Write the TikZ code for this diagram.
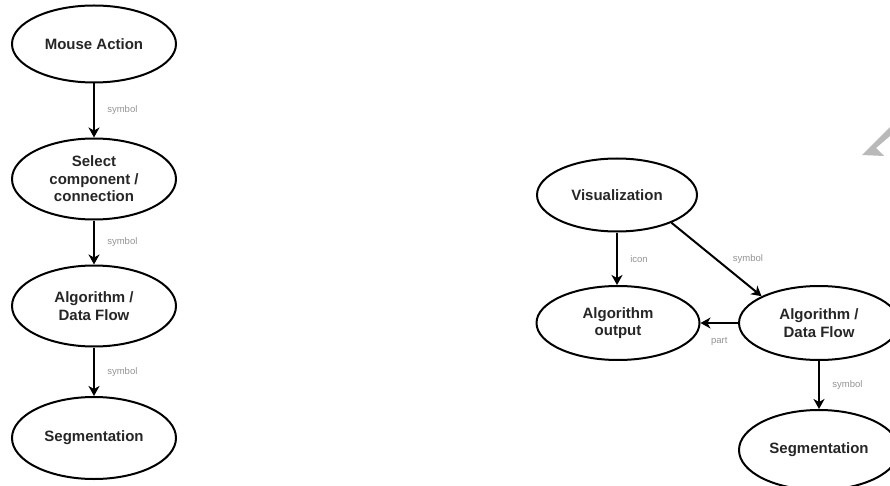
\documentclass[tikz,border=0pt]{standalone}
\usepackage{fontspec}
\setmainfont{Liberation Sans}
\usetikzlibrary{shapes.geometric, arrows.meta}

\begin{document}
\begin{tikzpicture}[x = 1pt, y = -1pt,
                    state/.style = {shape = ellipse, draw, line width = 2pt,
                                    align = center, inner sep = 0pt, text = black!85,
                                    font = \fontsize{15}{17.5}\selectfont\bfseries},
                    tag/.style = {font = \fontsize{9.5}{10}\selectfont, text = gray!85},
                    flow/.style = {-{Stealth[length = 10pt, width = 11pt, inset = 3pt]},
                                   line width = 2pt}]
      \useasboundingbox (0, 0) rectangle (890, 486);

      \node [state, minimum width = 164pt, minimum height = 77pt] (mouse) at (94, 44) {Mouse Action};
      \node [state, minimum width = 164pt, minimum height = 81pt] (select) at (94, 179) {Select\\component /\\connection};
      \node [state, minimum width = 164pt, minimum height = 81pt] (algl) at (94, 306) {Algorithm /\\Data Flow};
      \node [state, minimum width = 164pt, minimum height = 82pt] (segl) at (94, 438) {Segmentation};
      \draw [flow] (mouse) -- (select) node [tag, midway, right = 9pt] {symbol};
      \draw [flow] (select) -- (algl) node [tag, midway, right = 9pt] {symbol};
      \draw [flow] (algl) -- (segl) node [tag, midway, right = 9pt] {symbol};

      \node [state, minimum width = 160pt, minimum height = 73pt] (vis) at (617, 195) {Visualization};
      \node [state, minimum width = 163pt, minimum height = 74pt] (algout) at (618, 323) {Algorithm\\output};
      \node [state, minimum width = 160pt, minimum height = 74pt] (algr) at (819, 323) {Algorithm /\\Data Flow};
      \node [state, minimum width = 160pt, minimum height = 80pt] (segr) at (819, 450) {Segmentation};
      \draw [flow] (vis) -- (vis |- algout.north) node [tag, midway, right = 9pt] {icon};
      \draw [flow] (vis.-27) -- (algr.155) node [tag, midway, right = 12pt] {symbol};
      \draw [flow] (algr) -- (algout) node [tag, midway, below = 10pt] {part};
      \draw [flow] (algr) -- (segr) node [tag, midway, right = 9pt] {symbol};

      \fill [gray!55] (890, 127) -- (862, 155) -- (884, 156) -- (876, 148) -- (890, 136) -- cycle;
\end{tikzpicture}
\end{document}
